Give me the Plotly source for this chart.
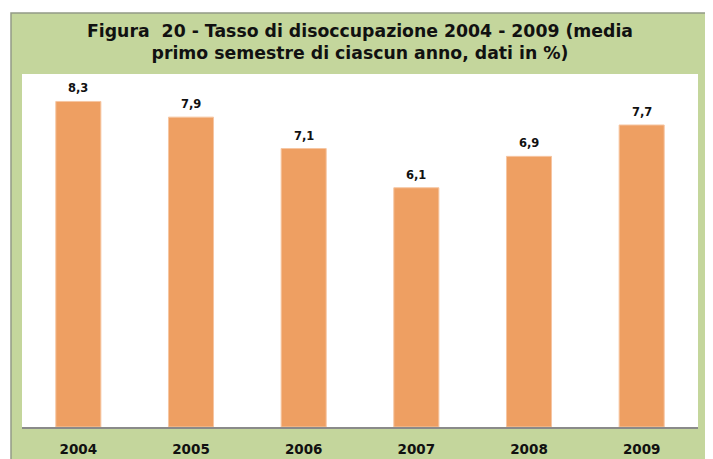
import plotly.graph_objects as go

years = ["2004", "2005", "2006", "2007", "2008", "2009"]
rates = [8.3, 7.9, 7.1, 6.1, 6.9, 7.7]
title_lines = ["Figura&nbsp; 20 - Tasso di disoccupazione 2004 - 2009 (media",
               "primo semestre di ciascun anno, dati in %)"]

OFF = 8  # page body margin
W, H = 713 - OFF, 459 - OFF
ml, mr, mt, mb = 22 - OFF, 15, 74 - OFF, 32
pw, ph = W - ml - mr, H - mt - mb

def px_x(p):
    return (p - OFF - ml) / pw

def px_y(p):
    return (H - mb - (p - OFF)) / ph

FONT = "DejaVu Sans"

fig = go.Figure(go.Bar(
    x=years, y=rates,
    marker=dict(color="#EE9F62", line=dict(color="#F6C6A2", width=1)),
    cliponaxis=False, hoverinfo="skip",
))

# on a category axis, annotation x is the category's serial index
label_annotations = [
    dict(x=i, y=v, xref="x", yref="y", text="<b>" + f"{v:.1f}".replace(".", ",") + "</b>",
         showarrow=False, yanchor="bottom", xanchor="center", yshift=4,
         font=dict(family=FONT, size=11.5, color="#111111"))
    for i, v in enumerate(rates)
]

fig.update_layout(
    width=W, height=H,
    margin=dict(l=ml, r=mr, t=mt, b=mb, autoexpand=False),
    paper_bgcolor="white", plot_bgcolor="rgba(0,0,0,0)",
    separators=",.",
    bargap=0.6,
    showlegend=False,
    font=dict(family=FONT),
    shapes=[
        dict(type="rect", xref="paper", yref="paper",
             x0=px_x(11), x1=px_x(708), y0=px_y(13), y1=px_y(490),
             fillcolor="#C4D69C", line=dict(color="#939A86", width=1.5), layer="below"),
        dict(type="rect", xref="paper", yref="paper",
             x0=0, x1=1, y0=0, y1=1,
             fillcolor="white", line=dict(width=0), layer="below"),
    ],
    annotations=[
        dict(text="<b>" + "<br>".join(title_lines) + "</b>",
             xref="paper", yref="paper", x=0.5, y=px_y(41.5),
             xanchor="center", yanchor="middle", showarrow=False,
             font=dict(family=FONT, size=17.3, color="#111111")),
    ] + label_annotations,
)

fig.update_xaxes(
    type="category", automargin=False,
    showline=True, linecolor="#8A8A8A", linewidth=1.5,
    showgrid=False, ticks="", ticklabelstandoff=9,
    tickfont=dict(family=FONT, size=13.5, color="#111111", weight="bold"),
)
fig.update_yaxes(automargin=False, range=[0, 9], visible=False, showgrid=False, zeroline=False)

fig.write_html("out.html")
